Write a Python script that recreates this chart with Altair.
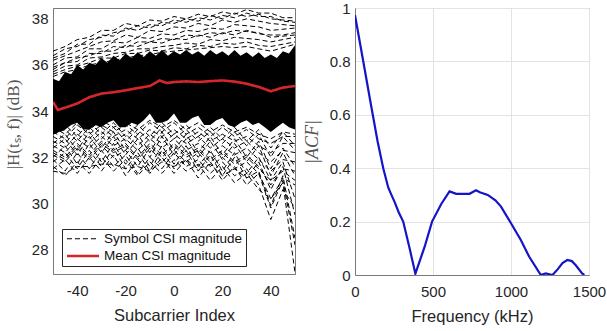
import altair as alt
import pandas as pd

# ---------------- data: left panel ----------------
SERIES = ["Symbol CSI magnitude", "Mean CSI magnitude"]

SC = [-50, -45, -40, -35, -30, -25, -20, -15, -10, -5, 0, 5, 10, 15, 20, 25, 30, 35, 40, 45, 50]

SYMBOL_UPPER = [
    [36.6, 36.8, 37.1, 37.2, 37.5, 37.5, 37.8, 37.7, 37.95, 37.9, 38.1, 38.0, 38.2, 38.1, 38.3, 38.2, 38.4, 38.25, 38.25, 38.05, 38.05],
    [36.4, 36.7, 36.8, 37.1, 37.2, 37.4, 37.5, 37.7, 37.6, 37.85, 37.8, 38.0, 37.9, 38.15, 38.0, 38.25, 38.1, 38.2, 38.0, 37.95, 37.9],
    [36.2, 36.4, 36.6, 36.8, 37.0, 37.05, 37.3, 37.2, 37.5, 37.45, 37.65, 37.6, 37.8, 37.7, 37.95, 37.85, 38.0, 37.9, 37.8, 37.75, 37.7],
    [36.0, 36.3, 36.35, 36.7, 36.7, 37.0, 36.95, 37.2, 37.15, 37.35, 37.3, 37.5, 37.45, 37.6, 37.55, 37.75, 37.7, 37.65, 37.5, 37.55, 37.6],
    [35.9, 36.1, 36.3, 36.4, 36.6, 36.6, 36.85, 36.8, 37.0, 36.95, 37.15, 37.1, 37.3, 37.2, 37.4, 37.3, 37.5, 37.35, 37.3, 37.3, 37.4],
    [35.7, 35.95, 36.0, 36.3, 36.35, 36.5, 36.55, 36.7, 36.7, 36.8, 36.85, 36.95, 36.9, 37.1, 37.05, 37.2, 37.15, 37.1, 37.0, 37.1, 37.2],
    [35.6, 35.8, 35.95, 36.1, 36.3, 36.3, 36.5, 36.5, 36.65, 36.6, 36.75, 36.7, 36.85, 36.8, 36.95, 36.9, 37.0, 36.85, 36.8, 36.9, 37.0],
    [35.5, 35.7, 35.8, 36.0, 36.1, 36.2, 36.3, 36.4, 36.45, 36.55, 36.6, 36.65, 36.7, 36.75, 36.8, 36.75, 36.8, 36.7, 36.6, 36.75, 36.9],
    [36.3, 36.5, 36.9, 36.9, 37.3, 37.25, 37.6, 37.5, 37.75, 37.7, 37.95, 37.85, 38.05, 37.95, 38.15, 38.05, 38.25, 38.1, 38.1, 37.9, 37.85],
    [35.8, 36.1, 36.15, 36.5, 36.5, 36.8, 36.75, 37.0, 37.0, 37.15, 37.1, 37.3, 37.25, 37.4, 37.35, 37.5, 37.45, 37.4, 37.2, 37.25, 37.3],
]

SYMBOL_LOWER = [
    [31.6, 31.2, 31.8, 31.3, 32.0, 31.4, 31.9, 31.2, 31.8, 31.3, 31.9, 31.4, 31.7, 31.0, 31.6, 30.9, 31.3, 30.6, 30.2, 30.9, 27.0],
    [31.9, 31.4, 32.2, 31.5, 32.3, 31.6, 32.1, 31.3, 32.0, 31.5, 32.2, 31.6, 31.9, 31.3, 31.8, 31.2, 31.5, 30.8, 29.3, 30.6, 29.8],
    [32.1, 31.8, 32.4, 31.9, 32.5, 32.0, 32.3, 31.6, 32.4, 31.8, 32.3, 31.8, 32.2, 31.6, 32.0, 31.5, 31.8, 31.3, 30.2, 31.1, 30.8],
    [32.3, 32.0, 32.6, 32.1, 32.7, 32.3, 32.6, 32.0, 32.6, 32.1, 32.6, 32.1, 32.4, 31.9, 32.3, 31.8, 32.1, 31.6, 30.8, 31.5, 31.4],
    [32.5, 32.2, 32.8, 32.4, 32.9, 32.5, 32.8, 32.3, 32.8, 32.4, 32.8, 32.3, 32.6, 32.2, 32.5, 32.1, 32.4, 31.9, 31.4, 31.9, 31.8],
    [32.7, 32.4, 33.0, 32.6, 33.1, 32.7, 33.0, 32.5, 33.0, 32.6, 33.0, 32.6, 32.9, 32.4, 32.8, 32.4, 32.7, 32.2, 31.8, 32.3, 32.2],
    [32.9, 32.6, 33.2, 32.8, 33.3, 32.9, 33.2, 32.8, 33.2, 32.9, 33.2, 32.8, 33.1, 32.7, 33.0, 32.7, 32.9, 32.5, 32.2, 32.6, 32.6],
    [31.4, 31.3, 31.6, 31.6, 31.7, 31.7, 31.5, 31.6, 31.4, 31.8, 31.6, 31.9, 31.5, 31.7, 31.2, 31.5, 31.1, 31.4, 29.9, 31.2, 28.5],
    [33.1, 32.8, 33.4, 33.0, 33.4, 33.1, 33.4, 33.0, 33.5, 33.1, 33.5, 33.0, 33.3, 32.9, 33.3, 32.9, 33.2, 32.8, 32.6, 32.9, 32.9],
    [32.0, 32.5, 31.7, 32.6, 31.8, 32.6, 31.7, 32.4, 31.6, 32.5, 31.7, 32.5, 31.6, 32.3, 31.4, 32.2, 31.3, 32.0, 31.0, 31.8, 30.2],
    [32.6, 33.0, 32.3, 33.1, 32.4, 33.1, 32.3, 33.0, 32.2, 33.1, 32.3, 33.0, 32.2, 32.9, 32.1, 32.8, 32.0, 32.7, 31.5, 32.4, 31.6],
    [33.2, 33.4, 32.9, 33.5, 33.0, 33.5, 32.9, 33.4, 32.9, 33.5, 33.0, 33.4, 32.9, 33.3, 32.8, 33.3, 32.7, 33.2, 32.4, 33.1, 32.5],
    [31.8, 32.2, 31.5, 32.3, 31.6, 32.4, 31.5, 32.2, 31.4, 32.3, 31.5, 32.3, 31.4, 32.1, 31.2, 32.0, 31.1, 31.8, 30.6, 31.6, 29.5],
    [32.4, 32.8, 32.1, 32.9, 32.2, 32.9, 32.1, 32.8, 32.0, 32.9, 32.1, 32.8, 32.0, 32.7, 31.9, 32.6, 31.8, 32.5, 31.2, 32.2, 31.2],
    [33.0, 33.2, 32.7, 33.3, 32.8, 33.3, 32.7, 33.2, 32.7, 33.3, 32.8, 33.2, 32.7, 33.1, 32.6, 33.1, 32.5, 33.0, 32.0, 32.9, 32.3],
    [31.5, 31.9, 31.3, 32.0, 31.4, 32.1, 31.2, 31.9, 31.3, 32.0, 31.3, 31.9, 31.1, 31.8, 31.0, 31.6, 30.8, 31.3, 29.8, 31.0, 28.2],
    [32.2, 31.9, 32.5, 32.0, 32.6, 32.2, 32.5, 31.9, 32.5, 32.0, 32.5, 32.0, 32.3, 31.8, 32.2, 31.7, 32.0, 31.5, 31.0, 31.4, 31.0],
    [33.3, 33.0, 33.5, 33.2, 33.6, 33.3, 33.5, 33.2, 33.6, 33.3, 33.6, 33.2, 33.5, 33.1, 33.4, 33.1, 33.3, 33.0, 32.8, 33.1, 33.0],
]

# dense core of overlapping symbol curves (upper / lower edge)
BAND_X = [-50, -47.5, -45, -42.5, -40, -37.5, -35, -32.5, -30, -27.5, -25, -22.5, -20, -17.5,
          -15, -12.5, -10, -7.5, -5, -2.5, 0, 2.5, 5, 7.5, 10, 12.5, 15, 17.5, 20, 22.5, 25,
          27.5, 30, 32.5, 35, 37.5, 40, 42.5, 45, 47.5, 50]
BAND_HI = [35.4, 35.3, 35.7, 35.6, 36.0, 35.8, 36.1, 36.0, 36.3, 36.1, 36.4, 36.2, 36.5, 36.3,
           36.55, 36.35, 36.6, 36.4, 36.65, 36.4, 36.6, 36.45, 36.65, 36.45, 36.6, 36.4, 36.65,
           36.45, 36.6, 36.4, 36.65, 36.4, 36.55, 36.35, 36.55, 36.3, 36.45, 36.3, 36.6, 36.5, 36.85]
BAND_LO = [33.0, 33.1, 33.2, 33.4, 33.5, 33.2, 33.2, 33.4, 33.3, 33.5, 33.6, 33.3, 33.3, 33.5,
           33.4, 33.6, 33.9, 33.5, 33.5, 33.6, 33.9, 33.5, 33.5, 33.7, 33.8, 33.4, 33.4, 33.6,
           33.7, 33.4, 33.3, 33.5, 33.6, 33.4, 33.5, 33.3, 33.1, 33.3, 33.5, 33.3, 33.2]

MEAN_X = [-50, -48, -45, -40, -35, -30, -25, -20, -15, -10, -6, -3, 0, 5, 10, 15, 20, 25, 30, 35, 40, 45, 50]
MEAN_Y = [34.4, 34.05, 34.15, 34.33, 34.6, 34.76, 34.82, 34.9, 35.0, 35.09, 35.33, 35.22, 35.26,
          35.29, 35.26, 35.3, 35.33, 35.28, 35.19, 35.05, 34.86, 35.02, 35.09]

# ---------------- data: right panel ----------------
ACF_F = [0, 50, 100, 145, 181, 213, 230, 255, 280, 309, 350, 387, 446, 494, 553, 606, 649, 700,
         734, 776, 800, 851, 900, 936, 1000, 1063, 1116, 1191, 1223, 1266, 1300, 1330, 1361,
         1390, 1414, 1456, 1470]
ACF_V = [0.973, 0.81, 0.645, 0.50, 0.40, 0.328, 0.305, 0.272, 0.235, 0.20, 0.10, 0.005, 0.105,
         0.20, 0.266, 0.313, 0.304, 0.304, 0.304, 0.317, 0.31, 0.30, 0.28, 0.256, 0.194, 0.131,
         0.069, 0.0, 0.006, 0.0, 0.022, 0.045, 0.056, 0.052, 0.0375, 0.006, 0.0]

# ---------------- frames ----------------
rows = []
for i, vals in enumerate(SYMBOL_UPPER + SYMBOL_LOWER):
    for x, y in zip(SC, vals):
        rows.append({"x": x, "y": y, "line": f"s{i}", "series": SERIES[0]})
sym_df = pd.DataFrame(rows)
mean_df = pd.DataFrame({"x": MEAN_X, "y": MEAN_Y, "line": "mean", "series": SERIES[1]})
band_df = pd.DataFrame({"x": BAND_X, "hi": BAND_HI, "lo": BAND_LO})
acf_df = pd.DataFrame({"f": ACF_F, "v": ACF_V})

TXT = "#262626"
FRAME = "#7a7a7a"
SANS = "Liberation Sans"
SERIF = "Liberation Serif"
YDOM = [26.94, 38.47]
YTITLE = "|H(tₛ, f)| (dB)"

xL = alt.X("x:Q", scale=alt.Scale(domain=[-50, 50], nice=False, zero=False),
           axis=alt.Axis(values=[-40, -20, 0, 20, 40], title="Subcarrier Index",
                         labelExpr="toString(datum.value)", grid=False, ticks=False,
                         labelPadding=9, titlePadding=9, labelFlush=False))
yAxis = alt.Axis(values=[28, 30, 32, 34, 36, 38], title=YTITLE,
                 grid=False, ticks=False, labelPadding=5, titleFont=SERIF,
                 titleFontSize=17, titleFontWeight="normal", titleColor="#555555",
                 titleX=-31, titleY=116, titleAlign="center", titleAngle=270,
                 titleBaseline="bottom")
yL = alt.Y("y:Q", scale=alt.Scale(domain=YDOM, nice=False, zero=False), axis=yAxis)

leg = alt.Legend(title=None, orient="none", legendX=9, legendY=221, fillColor="white",
                 strokeColor=TXT, padding=3, labelFontSize=13.5, labelFont=SANS,
                 labelColor="#111111", symbolType="M-3,0L3,0", symbolSize=114,
                 symbolOffset=11, labelOffset=14, rowPadding=3)

enc_common = dict(
    color=alt.Color("series:N", scale=alt.Scale(domain=SERIES, range=["#000000", "#d7262b"]), legend=leg),
    strokeDash=alt.StrokeDash("series:N", scale=alt.Scale(domain=SERIES, range=[[5, 3], [1, 0]]), legend=leg),
    strokeWidth=alt.StrokeWidth("series:N", scale=alt.Scale(domain=SERIES, range=[1.0, 2.6]), legend=leg),
)

band = alt.Chart(band_df).mark_area(color="#000000", opacity=1).encode(
    x=xL, y=alt.Y("hi:Q", scale=alt.Scale(domain=YDOM, nice=False, zero=False), axis=yAxis),
    y2=alt.Y2("lo:Q", title=YTITLE))
sym = alt.Chart(sym_df).mark_line(clip=True).encode(x=xL, y=yL, detail="line:N", **enc_common)
mean = alt.Chart(mean_df).mark_line(clip=True).encode(x=xL, y=yL, detail="line:N", **enc_common)

left = alt.layer(band, sym, mean).properties(width=242, height=266)

right = alt.Chart(acf_df).mark_line(color="#1414c8", strokeWidth=2.2, clip=True).encode(
    x=alt.X("f:Q", scale=alt.Scale(domain=[0, 1500], nice=False),
            axis=alt.Axis(values=[0, 500, 1000, 1500], title="Frequency (kHz)",
                          labelExpr="toString(datum.value)", grid=True, ticks=False,
                          labelPadding=9, titlePadding=9, labelFlush=False, labelOverlap=False)),
    y=alt.Y("v:Q", scale=alt.Scale(domain=[0, 1], nice=False),
            axis=alt.Axis(values=[0, 0.2, 0.4, 0.6, 0.8, 1], title="|ACF|", grid=True,
                          labelExpr="toString(datum.value)", ticks=False, labelPadding=5,
                          titleFont=SERIF, titleFontSize=18, titleFontStyle="italic",
                          titleFontWeight="normal", titleColor="#555555", titlePadding=8,
                          labelOverlap=False)),
).properties(width=234, height=267)

chart = alt.hconcat(left, right, spacing=6).properties(
    padding={"left": 3, "top": 0, "right": 0, "bottom": 0}, background="white"
).configure_view(stroke=FRAME, strokeWidth=1).configure_axis(
    labelFont=SANS, labelFontSize=15, labelColor=TXT, titleFont=SANS, titleFontSize=16.5,
    titleColor=TXT, titleFontWeight="normal", domainColor=FRAME, gridColor="#e3e3e3",
    gridWidth=1
)

chart.save("out.html", embed_options={"renderer": "svg", "actions": False})
